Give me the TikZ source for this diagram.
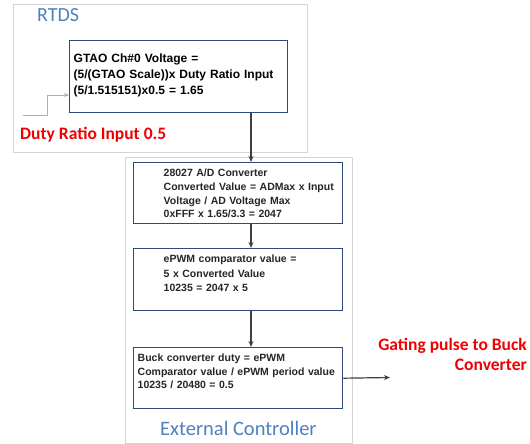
\documentclass[tikz,border=0pt]{standalone}
\usepackage{fontspec}
\setmainfont{Liberation Sans}
\newfontfamily\calib{Carlito}
\usetikzlibrary{arrows.meta,calc}
\definecolor{hdrblue}{HTML}{4F81BD}
\definecolor{boxblue}{HTML}{2E4A7A}
\definecolor{framegray}{HTML}{D4D4D4}
\definecolor{inblue}{HTML}{8DB3E2}
\definecolor{arrgray}{HTML}{404040}
\definecolor{redtxt}{HTML}{F00000}
\newcommand{\indtab}[1]{\hspace*{26pt}\begin{tabular}[t]{@{}l@{}}#1\end{tabular}}
\tikzset{
  frame/.style={draw=framegray, line width=1pt, anchor=north west, inner sep=0pt},
  blk/.style={draw=boxblue, line width=1.4pt, anchor=north west, inner xsep=4pt, inner ysep=0pt, align=left},
  smalltxt/.style={font=\bfseries\fontsize{10.5}{#1}\selectfont, text=black!85},
  flow/.style={draw=arrgray, line width=1.2pt, -{Stealth[length=6pt,width=5pt]}},
  inarrow/.style={draw=inblue, line width=1pt, -{Stealth[length=5pt,width=4pt]}},
  redlbl/.style={text=redtxt, inner sep=0pt, font=\calib\bfseries\fontsize{17.5}{20}\selectfont},
  bluelbl/.style={text=hdrblue, inner sep=0pt, anchor=base west}
}
\begin{document}
\begin{tikzpicture}[x=1pt,y=-1pt]
\useasboundingbox (0,0) rectangle (530,444);
\fill[white] (0,0) rectangle (530,444);
% frames
\node[frame, minimum width=294pt, minimum height=148pt] (rtdsframe) at (13,4) {};
\node[frame, minimum width=227pt, minimum height=286pt] (extframe) at (125,157) {};
\node[bluelbl, font=\calib\fontsize{20}{24}\selectfont] (rtdslbl) at (37,21.5) {RTDS};
\node[bluelbl, font=\calib\fontsize{20.5}{24}\selectfont] (extlbl) at (160,435) {External Controller};
% boxes
\node[blk, text width=210pt, text height=22pt, text depth=50pt,
      font=\bfseries\fontsize{12}{16}\selectfont] (gtao) at (69,40)
  {GTAO Ch\#0 Voltage =\\(5/(GTAO Scale))x Duty Ratio Input\\(5/1.515151)x0.5 = 1.65};
\node[blk, smalltxt=13.7, text width=201pt, text height=14pt, text depth=47pt] (ad) at (133,162)
  {\indtab{28027 A/D Converter\\Converted Value = ADMax x Input\\Voltage / AD Voltage Max\\0xFFF x 1.65/3.3 = 2047}};
\node[blk, smalltxt=14.5, text width=201pt, text height=14pt, text depth=48pt] (epwm) at (133,248)
  {\indtab{ePWM comparator value =\\5 x Converted Value\\10235 = 2047 x 5}};
\node[blk, smalltxt=13.5, text width=201pt, text height=14pt, text depth=47pt] (buck) at (133,347)
  {Buck converter duty = ePWM\\Comparator value / ePWM period value\\10235 / 20480 = 0.5};
% labels
\node[redlbl, anchor=base west] (dutylbl) at (20,139) {Duty Ratio Input 0.5};
\node[redlbl, anchor=base east, align=right] (gatelbl) at (527,370) {Gating pulse to Buck\\Converter};
% connectors
\coordinate (ax) at (251,0);
\coordinate (in0) at (23,115);
\coordinate (inbend) at (47,115);
\coordinate (gateend) at (390,377.5);
\draw[inarrow] (in0) -- (inbend) |- ($(gtao.north west)+(0,55)$);
\draw[flow] (gtao.south -| ax) -- (ad.north -| ax);
\draw[flow] (ad.south -| ax) -- (epwm.north -| ax);
\draw[flow] (epwm.south -| ax) -- (buck.north -| ax);
\draw[flow] (buck.east) -- (gateend);
\end{tikzpicture}
\end{document}
